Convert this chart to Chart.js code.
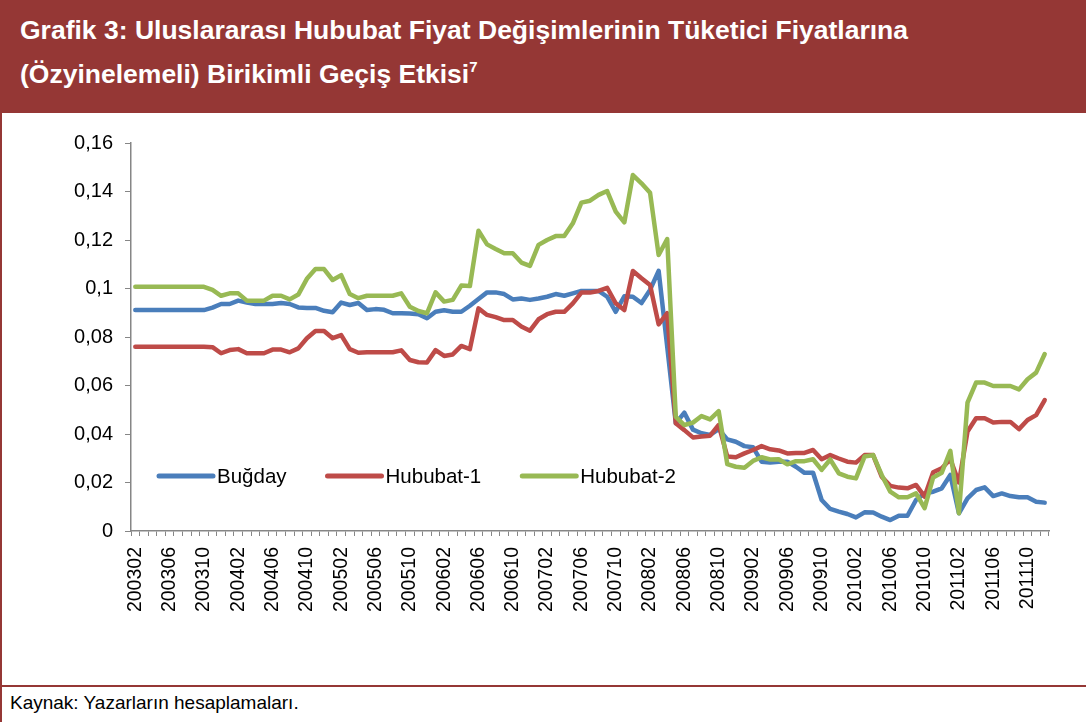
<!DOCTYPE html>
<html>
<head>
<meta charset="utf-8">
<script src="https://cdn.jsdelivr.net/npm/chart.js@4.4.1/dist/chart.umd.min.js"></script>
<style>
  body { margin: 0; background: #fff; }
  #wrap { position: relative; width: 1086px; height: 722px; background: #fff; overflow: hidden;
          font-family: "Liberation Sans", Arial, sans-serif; }
  #banner { position: absolute; left: 0; top: 0; width: 1086px; height: 113px; background: #953735; color: #fff; }
  .tline { position: absolute; left: 20px; font-weight: bold; font-size: 26.5px; line-height: 30px; white-space: nowrap; }
  .tline sup { font-size: 15px; vertical-align: 0; position: relative; top: -11px; }
  #leftbar { position: absolute; left: 0; top: 113px; width: 2px; height: 609px; background: #953735; }
  #sep { position: absolute; left: 0; top: 685px; width: 1086px; height: 2px; background: #953735; }
  #src { position: absolute; left: 10px; top: 692px; font-size: 19px; color: #000; }
  #box { position: absolute; left: 0; top: 113px; width: 1086px; height: 570px; }
</style>
</head>
<body>
<div id="wrap">
  <div id="banner">
    <div class="tline" style="top:15px">Grafik 3: Uluslararası Hububat Fiyat Değişimlerinin Tüketici Fiyatlarına</div>
    <div class="tline" style="top:59px">(Özyinelemeli) Birikimli Geçiş Etkisi<sup>7</sup></div>
  </div>
  <div id="leftbar"></div>
  <div id="box"><canvas id="grafik" width="1086" height="570"></canvas></div>
  <div id="sep"></div>
  <div id="src">Kaynak: Yazarların hesaplamaları.</div>
</div>
<script>
// aylar: 200302 - 201112
const startYear = 2003, startMonth = 2, monthCount = 107;
const months = [];
for (let k = 0; k < monthCount; k++) {
  const m = startMonth - 1 + k;
  const y = startYear + Math.floor(m / 12);
  const mm = (m % 12) + 1;
  months.push(String(y) + (mm < 10 ? '0' : '') + mm);
}

const seriesNames = ['Buğday', 'Hububat-1', 'Hububat-2'];
const seriesColors = ['#4A7EBB', '#BE4B48', '#98B954'];

const bugday = [
  0.0911, 0.0911, 0.0911, 0.0911, 0.0911, 0.0911, 0.0911, 0.0911, 0.0911, 0.0921,
  0.0936, 0.0936, 0.0950, 0.0942, 0.0936, 0.0936, 0.0936, 0.0940, 0.0936, 0.0922,
  0.0920, 0.0920, 0.0908, 0.0902, 0.0942, 0.0932, 0.0940, 0.0911, 0.0915, 0.0912,
  0.0898, 0.0898, 0.0897, 0.0894, 0.0877, 0.0904, 0.0910, 0.0904, 0.0904, 0.0929,
  0.0957, 0.0984, 0.0984, 0.0977, 0.0955, 0.0959, 0.0953, 0.0959, 0.0966, 0.0977,
  0.0970, 0.0980, 0.0990, 0.0990, 0.0990, 0.0966, 0.0904, 0.0968, 0.0966, 0.0940,
  0.0994, 0.1073, 0.0760, 0.0444, 0.0488, 0.0418, 0.0403, 0.0396, 0.0420, 0.0378,
  0.0368, 0.0350, 0.0345, 0.0286, 0.0282, 0.0286, 0.0286, 0.0265, 0.0240, 0.0240,
  0.0128, 0.0091, 0.0080, 0.0070, 0.0056, 0.0077, 0.0076, 0.0059, 0.0045, 0.0063,
  0.0063, 0.0128, 0.0155, 0.0162, 0.0176, 0.0231, 0.0073, 0.0135, 0.0169, 0.0180,
  0.0144, 0.0155, 0.0144, 0.0139, 0.0139, 0.0121, 0.0117
];
const hububat1 = [
  0.0760, 0.0760, 0.0760, 0.0760, 0.0760, 0.0760, 0.0760, 0.0760, 0.0760, 0.0758,
  0.0733, 0.0746, 0.0750, 0.0733, 0.0733, 0.0733, 0.0748, 0.0748, 0.0737, 0.0753,
  0.0795, 0.0825, 0.0825, 0.0795, 0.0808, 0.0750, 0.0735, 0.0737, 0.0737, 0.0737,
  0.0737, 0.0745, 0.0705, 0.0696, 0.0695, 0.0746, 0.0722, 0.0728, 0.0763, 0.0750,
  0.0918, 0.0891, 0.0882, 0.0870, 0.0870, 0.0843, 0.0826, 0.0873, 0.0894, 0.0904,
  0.0904, 0.0939, 0.0983, 0.0983, 0.0990, 0.1003, 0.0939, 0.0911, 0.1072, 0.1042,
  0.1014, 0.0852, 0.0898, 0.0444, 0.0416, 0.0386, 0.0390, 0.0393, 0.0437, 0.0307,
  0.0304, 0.0320, 0.0334, 0.0350, 0.0337, 0.0332, 0.0320, 0.0322, 0.0322, 0.0334,
  0.0296, 0.0313, 0.0299, 0.0286, 0.0282, 0.0313, 0.0313, 0.0224, 0.0186, 0.0179,
  0.0176, 0.0190, 0.0142, 0.0242, 0.0259, 0.0296, 0.0200, 0.0410, 0.0465, 0.0465,
  0.0447, 0.0450, 0.0450, 0.0420, 0.0458, 0.0478, 0.0540
];
const hububat2 = [
  0.1007, 0.1007, 0.1007, 0.1007, 0.1007, 0.1007, 0.1007, 0.1007, 0.1007, 0.0994,
  0.0970, 0.0980, 0.0980, 0.0950, 0.0950, 0.0950, 0.0970, 0.0970, 0.0955, 0.0975,
  0.1040, 0.1080, 0.1080, 0.1035, 0.1055, 0.0977, 0.0960, 0.0970, 0.0970, 0.0970,
  0.0970, 0.0980, 0.0925, 0.0907, 0.0898, 0.0984, 0.0946, 0.0953, 0.1012, 0.1010,
  0.1238, 0.1182, 0.1163, 0.1145, 0.1145, 0.1107, 0.1093, 0.1180, 0.1200, 0.1216,
  0.1216, 0.1269, 0.1354, 0.1362, 0.1386, 0.1402, 0.1317, 0.1273, 0.1468, 0.1434,
  0.1395, 0.1138, 0.1204, 0.0471, 0.0437, 0.0447, 0.0474, 0.0460, 0.0494, 0.0276,
  0.0265, 0.0261, 0.0289, 0.0304, 0.0295, 0.0296, 0.0275, 0.0288, 0.0288, 0.0296,
  0.0252, 0.0295, 0.0238, 0.0224, 0.0217, 0.0307, 0.0313, 0.0231, 0.0162, 0.0139,
  0.0139, 0.0155, 0.0094, 0.0221, 0.0240, 0.0331, 0.0073, 0.0529, 0.0612, 0.0612,
  0.0598, 0.0598, 0.0598, 0.0584, 0.0626, 0.0653, 0.0730
];

const FONT = '"Liberation Sans", Arial, sans-serif';
const AXIS = '#868686';

// legend drawn inside the plot, near the bottom
const innerLegend = {
  id: 'innerLegend',
  afterDatasetsDraw(chart) {
    const ctx = chart.ctx;
    const a = chart.chartArea;
    let x = a.left + 28;
    const y = a.bottom - 55;
    ctx.save();
    ctx.font = '20.5px ' + FONT;
    ctx.textBaseline = 'middle';
    ctx.fillStyle = '#000';
    chart.data.datasets.forEach(ds => {
      ctx.strokeStyle = ds.borderColor;
      ctx.lineWidth = 5;
      ctx.lineCap = 'round';
      ctx.beginPath();
      ctx.moveTo(x, y);
      ctx.lineTo(x + 54, y);
      ctx.stroke();
      ctx.fillText(ds.label, x + 58, y + 1);
      x += 58 + ctx.measureText(ds.label).width + 41;
    });
    ctx.restore();
  }
};

const values = [bugday, hububat1, hububat2];

new Chart('grafik', {
  type: 'line',
  data: {
    labels: months,
    datasets: values.map((d, i) => ({
      label: seriesNames[i],
      data: d,
      borderColor: seriesColors[i],
      borderWidth: 4.5,
      pointRadius: 0,
      tension: 0,
      borderJoinStyle: 'round',
      borderCapStyle: 'round',
      fill: false,
      order: 2 - i
    }))
  },
  options: {
    responsive: false,
    animation: false,
    layout: { padding: { top: 30, right: 37, left: 0, bottom: 0 } },
    plugins: { legend: { display: false }, tooltip: { enabled: false } },
    scales: {
      x: {
        offset: true,
        grid: { offset: true, drawOnChartArea: false, tickLength: 5, color: AXIS },
        border: { color: AXIS, width: 1.5 },
        ticks: {
          autoSkip: false, minRotation: 90, maxRotation: 90, padding: 11,
          color: '#000', font: { family: FONT, size: 19.5 },
          callback: function (v, i) { return i % 4 === 0 ? this.getLabelForValue(v) : ''; }
        },
        afterFit: s => { s.height = 152; }
      },
      y: {
        min: 0, max: 0.16,
        grid: { drawOnChartArea: false, tickLength: 6, color: AXIS },
        border: { color: AXIS, width: 1.5 },
        ticks: {
          stepSize: 0.02, padding: 12, color: '#000', font: { family: FONT, size: 20 },
          callback: v => String(parseFloat(v.toFixed(2))).replace('.', ',')
        },
        afterFit: s => { s.width = 131; }
      }
    }
  },
  plugins: [innerLegend]
});
</script>
</body>
</html>
